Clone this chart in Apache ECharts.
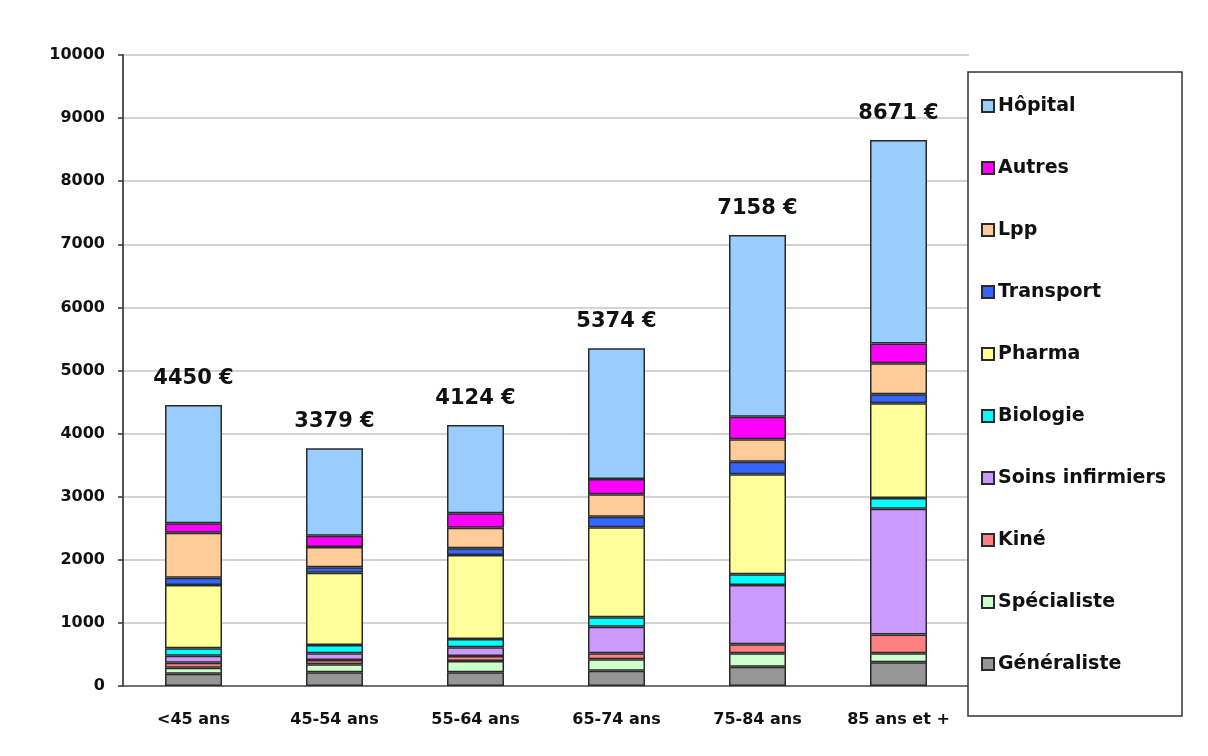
<!DOCTYPE html>
<html>
<head>
<meta charset="utf-8">
<script src="https://cdn.jsdelivr.net/npm/echarts@6/dist/echarts.min.js"></script>
<style>html,body{margin:0;padding:0;background:#fff;}#c{width:1208px;height:756px;}</style>
</head>
<body>
<div id="c"></div>
<script>
const categories = ['<45 ans', '45-54 ans', '55-64 ans', '65-74 ans', '75-84 ans', '85 ans et +'];
const totalLabels = ['4450 €', '3379 €', '4124 €', '5374 €', '7158 €', '8671 €'];
const yTicks = [0, 1000, 2000, 3000, 4000, 5000, 6000, 7000, 8000, 9000, 10000];

// stacked from bottom to top
const generaliste = [196, 217, 217, 243, 306, 378];
const specialiste = [95, 127, 179, 180, 212, 142];
const kine = [79, 68, 79, 95, 143, 295];
const soinsInfirmiers = [111, 106, 138, 422, 940, 1996];
const biologie = [116, 132, 132, 149, 169, 170];
const pharma = [1004, 1146, 1331, 1426, 1584, 1501];
const transport = [116, 85, 106, 168, 201, 141];
const lpp = [713, 322, 327, 355, 354, 493];
const autres = [148, 179, 228, 243, 359, 310];
const hopital = [1875, 1385, 1399, 2071, 2879, 3227];

const seriesDefs = [
  { name: 'Généraliste', data: generaliste, color: '#969696' },
  { name: 'Spécialiste', data: specialiste, color: '#CCFFCC' },
  { name: 'Kiné', data: kine, color: '#FF8080' },
  { name: 'Soins infirmiers', data: soinsInfirmiers, color: '#CC99FF' },
  { name: 'Biologie', data: biologie, color: '#00FFFF' },
  { name: 'Pharma', data: pharma, color: '#FFFF99' },
  { name: 'Transport', data: transport, color: '#3366FF' },
  { name: 'Lpp', data: lpp, color: '#FFCC99' },
  { name: 'Autres', data: autres, color: '#FF00FF' },
  { name: 'Hôpital', data: hopital, color: '#99CCFF' }
];

const FONT = '"DejaVu Sans", sans-serif';

const series = seriesDefs.map((s, i) => {
  const o = {
    name: s.name,
    type: 'bar',
    stack: 'total',
    barWidth: 57,
    data: s.data,
    itemStyle: { color: s.color, borderColor: '#2a2a2a', borderWidth: 1.5 },
    emphasis: { disabled: true }
  };
  if (i === seriesDefs.length - 1) {
    o.label = {
      show: true,
      position: 'top',
      distance: 16,
      formatter: p => totalLabels[p.dataIndex],
      fontFamily: FONT,
      fontWeight: 'bold',
      fontSize: 21,
      color: '#111'
    };
  }
  return o;
});

const chart = echarts.init(document.getElementById('c'));
chart.setOption({
  backgroundColor: '#fff',
  animation: false,
  grid: { left: 123, right: 239, top: 55, bottom: 70 },
  xAxis: {
    type: 'category',
    data: categories,
    axisLine: { show: true, lineStyle: { color: '#555', width: 1.5 } },
    axisTick: { show: false },
    axisLabel: { margin: 26, fontFamily: FONT, fontWeight: 'bold', fontSize: 16, color: '#111' }
  },
  yAxis: {
    type: 'value',
    min: yTicks[0],
    max: yTicks[yTicks.length - 1],
    interval: 1000,
    axisLine: { show: true, lineStyle: { color: '#555', width: 2 } },
    axisTick: { show: true, length: 5, lineStyle: { color: '#333', width: 1.5 } },
    splitLine: { show: true, lineStyle: { color: '#c4c4c4', width: 1.5 } },
    axisLabel: { margin: 18, fontFamily: FONT, fontWeight: 'bold', fontSize: 16, color: '#111', formatter: v => String(v) }
  },
  graphic: [{
    type: 'rect',
    z: 3,
    shape: { x: 968, y: 72, width: 214, height: 644 },
    style: { fill: '#fff', stroke: '#333', lineWidth: 1.5 }
  }],
  legend: {
    orient: 'vertical',
    left: 976,
    top: 91,
    z: 5,
    icon: 'rect',
    itemWidth: 12,
    itemHeight: 12,
    itemGap: 42,
    data: seriesDefs.map(s => s.name).reverse(),
    textStyle: { fontFamily: FONT, fontWeight: 'bold', fontSize: 19, color: '#111', lineHeight: 20, padding: [0, 0, 0, -1] }
  },
  series: series
});
</script>
</body>
</html>
